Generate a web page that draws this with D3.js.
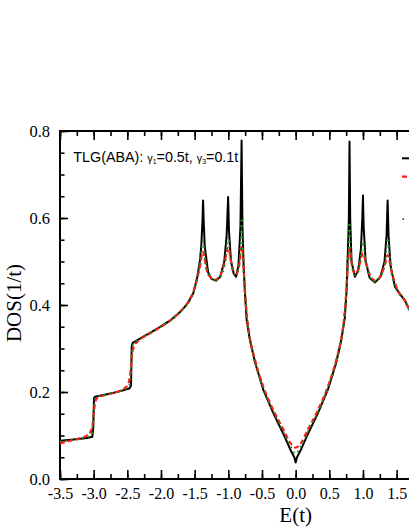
<!DOCTYPE html>
<html><head><meta charset="utf-8">
<script src="https://cdn.jsdelivr.net/npm/d3@7"></script>
<style>html,body{margin:0;padding:0;background:#fff;overflow:hidden}</style>
</head><body>
<svg id="chart" width="409" height="529"></svg>
<script>
// ---- data ----
const yTickValues = [0.0, 0.2, 0.4, 0.6, 0.8];
const xTickValues = [-3.5, -3.0, -2.5, -2.0, -1.5, -1.0, -0.5, 0.0, 0.5, 1.0, 1.5];
const blackCurve = [[-3.5,0.088],[-3.3,0.091],[-3.1,0.094],[-3.02,0.097],[-3.005,0.12],[-2.995,0.186],[-2.98,0.189],[-2.8,0.195],[-2.6,0.202],[-2.47,0.208],[-2.445,0.215],[-2.435,0.305],[-2.42,0.313],[-2.3,0.324],[-2.15,0.337],[-2.0,0.351],[-1.85,0.366],[-1.7,0.386],[-1.6,0.405],[-1.52,0.427],[-1.46,0.465],[-1.42,0.503],[-1.40,0.54],[-1.385,0.59],[-1.375,0.640],[-1.365,0.59],[-1.35,0.535],[-1.30,0.475],[-1.25,0.46],[-1.184,0.456],[-1.12,0.465],[-1.06,0.50],[-1.025,0.56],[-1.003,0.648],[-0.99,0.57],[-0.96,0.50],[-0.92,0.472],[-0.885,0.465],[-0.85,0.49],[-0.82,0.58],[-0.803,0.778],[-0.79,0.58],[-0.77,0.48],[-0.753,0.427],[-0.728,0.366],[-0.68,0.320],[-0.6,0.266],[-0.48,0.205],[-0.33,0.151],[-0.18,0.103],[-0.08,0.068],[-0.02,0.050],[0,0.038],[0.02,0.050],[0.08,0.068],[0.18,0.103],[0.33,0.151],[0.48,0.206],[0.6,0.266],[0.68,0.322],[0.73,0.370],[0.755,0.43],[0.775,0.52],[0.79,0.6],[0.8,0.776],[0.81,0.6],[0.83,0.50],[0.88,0.465],[0.93,0.48],[0.97,0.53],[0.99,0.6],[1.0,0.652],[1.01,0.58],[1.04,0.50],[1.1,0.462],[1.18,0.452],[1.26,0.465],[1.32,0.50],[1.35,0.56],[1.366,0.640],[1.38,0.56],[1.41,0.49],[1.475,0.442],[1.55,0.425],[1.62,0.411],[1.7,0.386],[1.8,0.370]];
const redCurve = [[-3.5,0.082],[-3.35,0.088],[-3.2,0.094],[-3.1,0.100],[-3.05,0.108],[-3.02,0.12],[-3.0,0.15],[-2.98,0.174],[-2.95,0.186],[-2.85,0.192],[-2.7,0.198],[-2.58,0.205],[-2.5,0.215],[-2.47,0.228],[-2.45,0.25],[-2.43,0.285],[-2.40,0.305],[-2.35,0.316],[-2.3,0.322],[-2.15,0.336],[-2.0,0.350],[-1.85,0.366],[-1.7,0.387],[-1.6,0.406],[-1.52,0.43],[-1.46,0.462],[-1.42,0.49],[-1.38,0.522],[-1.35,0.505],[-1.32,0.48],[-1.26,0.463],[-1.2,0.458],[-1.12,0.468],[-1.06,0.495],[-1.0,0.532],[-0.96,0.50],[-0.92,0.478],[-0.88,0.472],[-0.84,0.49],[-0.80,0.535],[-0.775,0.49],[-0.75,0.425],[-0.72,0.37],[-0.68,0.325],[-0.6,0.272],[-0.48,0.212],[-0.33,0.158],[-0.18,0.113],[-0.08,0.083],[0,0.072],[0.08,0.083],[0.18,0.113],[0.33,0.158],[0.48,0.213],[0.6,0.272],[0.68,0.325],[0.72,0.37],[0.75,0.425],[0.775,0.49],[0.80,0.530],[0.84,0.488],[0.88,0.472],[0.92,0.478],[0.96,0.50],[1.0,0.52],[1.04,0.50],[1.1,0.47],[1.18,0.456],[1.26,0.466],[1.32,0.49],[1.37,0.515],[1.42,0.48],[1.5,0.44],[1.62,0.41],[1.7,0.386],[1.8,0.37]];
const greenCurve = [[-3.5,0.086],[-3.3,0.090],[-3.1,0.096],[-3.03,0.104],[-3.01,0.13],[-2.99,0.175],[-2.97,0.187],[-2.8,0.195],[-2.6,0.203],[-2.48,0.212],[-2.45,0.235],[-2.435,0.29],[-2.41,0.31],[-2.3,0.323],[-2.0,0.351],[-1.7,0.386],[-1.52,0.428],[-1.44,0.48],[-1.375,0.546],[-1.34,0.50],[-1.28,0.466],[-1.2,0.456],[-1.1,0.47],[-1.04,0.505],[-1.0,0.557],[-0.96,0.50],[-0.9,0.47],[-0.86,0.48],[-0.82,0.53],[-0.80,0.60],[-0.78,0.50],[-0.75,0.428],[-0.72,0.368],[-0.68,0.322],[-0.6,0.268],[-0.48,0.207],[-0.33,0.154],[-0.18,0.108],[-0.08,0.076],[0,0.058],[0.08,0.076],[0.18,0.108],[0.33,0.154],[0.48,0.208],[0.6,0.268],[0.68,0.322],[0.72,0.368],[0.75,0.428],[0.78,0.50],[0.80,0.59],[0.82,0.52],[0.86,0.475],[0.9,0.468],[0.96,0.50],[1.0,0.545],[1.04,0.50],[1.1,0.465],[1.18,0.454],[1.26,0.466],[1.33,0.50],[1.37,0.554],[1.41,0.49],[1.48,0.442],[1.62,0.41],[1.7,0.386],[1.8,0.37]];

// ---- layout ----
const svg = d3.select("#chart");
const mLeft = 60, mTop = 131, mBottom = 479, mRight = 531.3;
const x = d3.scaleLinear().domain([-3.5, 3.5]).range([mLeft, mRight]);
const y = d3.scaleLinear().domain([0, 0.8]).range([mBottom, mTop]);
const serif = "'Liberation Serif','Times New Roman',serif";
const sans = "'Liberation Sans',Arial,sans-serif";

svg.append("clipPath").attr("id","clip").append("rect")
  .attr("x", mLeft).attr("y", mTop).attr("width", mRight-mLeft).attr("height", mBottom-mTop);

const xMinor = d3.range(-3.5, 3.5001, 0.25);
const xMajorMarks = d3.range(-3.5, 3.5001, 0.5);
const yMinor = d3.range(0, 0.8001, 0.05);

function styleAxis(g){
  g.select(".domain").remove();
  g.selectAll(".tick line").attr("stroke","#000").attr("stroke-width",1.6);
}
// bottom axis
svg.append("g").attr("transform",`translate(0,${mBottom})`)
  .call(d3.axisBottom(x).tickValues(xMinor).tickSize(-5).tickFormat(""))
  .call(styleAxis);
svg.append("g").attr("transform",`translate(0,${mBottom})`)
  .call(d3.axisBottom(x).tickValues(xTickValues).tickSize(-9).tickPadding(8.5).tickFormat(d=>d3.format(".1f")(d).replace("\u2212","-")))
  .call(styleAxis)
  .call(g=>g.selectAll("text").style("font-family",serif).style("font-size","16px").attr("fill","#000"));
// top axis
svg.append("g").attr("transform",`translate(0,${mTop})`)
  .call(d3.axisTop(x).tickValues(xMinor).tickSize(-5).tickFormat(""))
  .call(styleAxis);
svg.append("g").attr("transform",`translate(0,${mTop})`)
  .call(d3.axisTop(x).tickValues(xMajorMarks).tickSize(-9).tickFormat(""))
  .call(styleAxis);
// left axis
svg.append("g").attr("transform",`translate(${mLeft},0)`)
  .call(d3.axisLeft(y).tickValues(yMinor).tickSize(-4.5).tickFormat(""))
  .call(styleAxis);
svg.append("g").attr("transform",`translate(${mLeft},0)`)
  .call(d3.axisLeft(y).tickValues(yTickValues).tickSize(-8).tickPadding(10).tickFormat(d3.format(".1f")))
  .call(styleAxis)
  .call(g=>g.selectAll("text").style("font-family",serif).style("font-size","16.5px").attr("fill","#000"));

// axis lines
svg.append("line").attr("x1",mLeft).attr("x2",409).attr("y1",mBottom).attr("y2",mBottom).attr("stroke","#000").attr("stroke-width",2);
svg.append("line").attr("x1",mLeft).attr("x2",409).attr("y1",mTop).attr("y2",mTop).attr("stroke","#000").attr("stroke-width",2);
svg.append("line").attr("x1",mLeft).attr("x2",mLeft).attr("y1",mTop-1).attr("y2",mBottom+1).attr("stroke","#000").attr("stroke-width",2);

// curves
const lineLin = d3.line().x(d=>x(d[0])).y(d=>y(d[1]));
const lineSmooth = d3.line().x(d=>x(d[0])).y(d=>y(d[1])).curve(d3.curveMonotoneX);
const plot = svg.append("g").attr("clip-path","url(#clip)");
plot.append("path").datum(blackCurve).attr("d",lineLin)
  .attr("fill","none").attr("stroke","#000").attr("stroke-width",2).attr("stroke-linejoin","round");
plot.append("path").datum(redCurve).attr("d",lineSmooth)
  .attr("fill","none").attr("stroke","#ff1a1a").attr("stroke-width",2.2).attr("stroke-dasharray","5,3");
plot.append("path").datum(greenCurve).attr("d",lineSmooth)
  .attr("fill","none").attr("stroke","#1a8a1a").attr("stroke-width",2).attr("stroke-dasharray","1.6,4");

// legend symbols (labels lie outside the visible area)
const lg = svg.append("g");
lg.append("line").attr("x1",402).attr("x2",430).attr("y1",158.3).attr("y2",158.3).attr("stroke","#000").attr("stroke-width",2);
lg.append("line").attr("x1",402).attr("x2",430).attr("y1",176.7).attr("y2",176.7).attr("stroke","#ff1a1a").attr("stroke-width",2.2).attr("stroke-dasharray","5,3");
lg.append("line").attr("x1",402.5).attr("x2",430).attr("y1",219).attr("y2",219).attr("stroke","#1a8a1a").attr("stroke-width",2).attr("stroke-dasharray","1.6,10");

// annotation
const ann = svg.append("text").attr("x",73.3).attr("y",161.7)
  .style("font-family",sans).style("font-size","14.5px").attr("fill","#000")
  .attr("textLength",165).attr("lengthAdjust","spacingAndGlyphs");
ann.append("tspan").text("TLG(ABA): ");
ann.append("tspan").style("font-size","11px").text("γ");
ann.append("tspan").style("font-size","7px").attr("dy",2.5).text("1");
ann.append("tspan").attr("dy",-2.5).text("=0.5t, ");
ann.append("tspan").style("font-size","11px").text("γ");
ann.append("tspan").style("font-size","7px").attr("dy",2.5).text("3");
ann.append("tspan").attr("dy",-2.5).text("=0.1t");

// axis titles
svg.append("text").attr("x",295.7).attr("y",521.7).attr("text-anchor","middle")
  .style("font-family",serif).style("font-size","21px").attr("fill","#000").text("E(t)");
svg.append("text").attr("transform","translate(21,303) rotate(-90)").attr("text-anchor","middle")
  .style("font-family",serif).style("font-size","21px").attr("fill","#000").text("DOS(1/t)");
</script>
</body></html>
